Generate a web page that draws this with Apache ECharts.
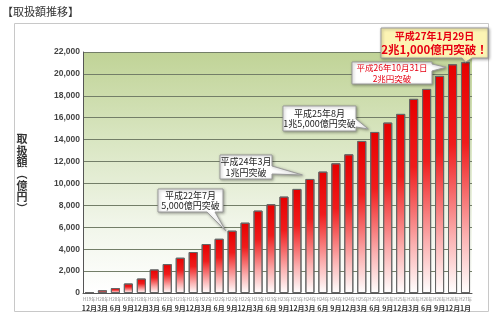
<!DOCTYPE html>
<html><head><meta charset="utf-8">
<script src="https://cdn.jsdelivr.net/npm/echarts@6/dist/echarts.min.js"></script>
<style>html,body{margin:0;padding:0;background:#fff}#c{width:500px;height:316px}</style>
</head><body><div id="c"></div>
<script>
const chartTitle = '【取扱額推移】';
const yAxisTitle = ['取','扱','額','︵','億','円','︶'];
const eraLabels = ['H19年','H20年','H20年','H20年','H20年','H21年','H21年','H21年','H21年','H22年','H22年','H22年','H22年','H23年','H23年','H23年','H23年','H24年','H24年','H24年','H24年','H25年','H25年','H25年','H25年','H26年','H26年','H26年','H26年','H27年'];
const monthLabels = ['12月','3月','6月','9月','12月','3月','6月','9月','12月','3月','6月','9月','12月','3月','6月','9月','12月','3月','6月','9月','12月','3月','6月','9月','12月','3月','6月','9月','12月','1月'];
const amounts = [80,250,450,870,1320,2150,2640,3220,3740,4470,4950,5690,6420,7520,8100,8800,9500,10410,11080,11840,12660,13880,14700,15560,16350,17720,18630,19820,20880,21070];
const yMin = 0, yMax = 22000, yStep = 2000;

const callouts = [
  {lines:['平成22年7月','5,000億円突破'], bar:11, corner:'left', dx:-2, dy:0, box:[158,189,65,23], side:'bottom', base:[207,215], style:'plain'},
  {lines:['平成24年3月','1兆円突破'], bar:17, corner:'left', dx:-3, dy:-4, box:[220,155,52,24], side:'right', base:[166,174], style:'plain'},
  {lines:['平成25年8月','1兆5,000億円突破'], bar:22, corner:'left', dx:-2, dy:-3, box:[283,106,73,25], side:'right', base:[119,127], style:'plain'},
  {lines:['平成26年10月31日','2兆円突破'], bar:28, corner:'left', dx:-2, dy:3, box:[352,62,80,22], side:'right', base:[64,71], style:'red'},
  {lines:['平成27年1月29日','2兆1,000億円突破！'], bar:29, corner:'center', dx:0, dy:0, box:[381,28,107,30], side:'bottom', base:[462,472], style:'big'}
];

const FONT = '"Noto Sans CJK JP", "Noto Sans", sans-serif';
const chart = echarts.init(document.getElementById('c'), null, {renderer:'canvas'});
chart.setOption({
  animation:false,
  backgroundColor:'#fff',
  textStyle:{fontFamily:FONT},
  grid:{left:83,right:28,top:52,bottom:23,show:true,borderWidth:0,
    backgroundColor:{type:'linear',x:0,y:0,x2:0,y2:1,colorStops:[
      {offset:0,color:'#c0d396'},{offset:0.35,color:'#d8e5c0'},{offset:0.7,color:'#f0f5e8'},{offset:1,color:'#ffffff'}]}},
  xAxis:{type:'category',data:monthLabels.map((m,i)=>i),
    axisLine:{lineStyle:{color:'#555',width:1}},axisTick:{show:false},
    axisLabel:{interval:0,margin:3,hideOverlap:false,
      formatter:(v,i)=>'{e|'+eraLabels[i]+'}\n{m|'+monthLabels[i]+'}',
      rich:{e:{fontSize:4.5,color:'#888',lineHeight:7,fontFamily:FONT},
            m:{fontSize:7,color:'#333',fontWeight:'bold',lineHeight:10,fontFamily:FONT}}}},
  yAxis:{type:'value',min:yMin,max:yMax,interval:yStep,
    axisLine:{show:true,lineStyle:{color:'#555'}},axisTick:{show:false},
    splitLine:{lineStyle:{color:'#737e68',width:1}},
    axisLabel:{margin:3,fontSize:8.5,color:'#444',fontWeight:'bold',fontFamily:'"Liberation Sans", Arial, sans-serif',
      formatter:v=>v.toLocaleString('en-US')}},
  series:[{type:'bar',data:amounts,barWidth:'70%',
    itemStyle:{borderColor:'#666',borderWidth:1,
      color:{type:'linear',x:0,y:0,x2:0,y2:1,colorStops:[
        {offset:0,color:'#e60000'},{offset:0.35,color:'#f01c1c'},{offset:0.75,color:'#fbb0b0'},{offset:1,color:'#ffffff'}]}}}]
});

function buildGraphics(){
  const els = [];
  els.push({type:'rect',shape:{x:14.5,y:23.5,width:474,height:288},style:{fill:'none',stroke:'#c8c8c8',lineWidth:1},z:0,silent:true});
  els.push({type:'text',style:{text:chartTitle,x:2,y:12,verticalAlign:'middle',fill:'#333',font:'11px '+FONT},z:10});
  yAxisTitle.forEach((ch,i)=>{
    els.push({type:'text',style:{text:ch,x:22,y:139+i*11.6,align:'center',verticalAlign:'middle',fill:'#333',font:'bold 11px '+FONT},z:10});
  });
  callouts.forEach(c=>{
    const p = chart.convertToPixel({xAxisIndex:0,yAxisIndex:0},[c.bar,amounts[c.bar]]);
    const p2 = chart.convertToPixel({xAxisIndex:0,yAxisIndex:0},[c.bar-1,amounts[c.bar]]);
    const hw = Math.abs(p2[0]-p[0])*0.35;
    const off = c.corner==='left' ? -hw : (c.corner==='right' ? hw : 0);
    const tip = [p[0]+off+c.dx, p[1]+c.dy];
    const [x,y,w,h] = c.box;
    let pts;
    if(c.side==='bottom'){
      pts=[[x,y],[x+w,y],[x+w,y+h],[c.base[1],y+h],tip,[c.base[0],y+h],[x,y+h]];
    } else {
      pts=[[x,y],[x+w,y],[x+w,c.base[0]],tip,[x+w,c.base[1]],[x+w,y+h],[x,y+h]];
    }
    const fill = c.style==='big' ? '#fcf4b4' : '#ffffff';
    els.push({type:'polygon',shape:{points:pts},style:{fill:fill,stroke:'#9a9a9a',lineWidth:1,shadowBlur:3,shadowColor:'rgba(0,0,0,0.35)',shadowOffsetX:1,shadowOffsetY:1},z:20});
    const cx = x+w/2;
    if(c.style==='big'){
      els.push({type:'text',style:{text:c.lines[0],x:cx,y:y+8.5,align:'center',verticalAlign:'middle',fill:'#e60012',font:'bold 10px '+FONT},z:21});
      els.push({type:'text',style:{text:c.lines[1],x:cx,y:y+21.5,align:'center',verticalAlign:'middle',fill:'#e60012',font:'bold 11.5px '+FONT},z:21});
    } else {
      const col = c.style==='red' ? '#e60012' : '#222';
      const fs = c.style==='red' ? 8.5 : 9;
      els.push({type:'text',style:{text:c.lines[0],x:cx,y:y+h/2-5,align:'center',verticalAlign:'middle',fill:col,font:fs+'px '+FONT},z:21});
      els.push({type:'text',style:{text:c.lines[1],x:cx,y:y+h/2+5.5,align:'center',verticalAlign:'middle',fill:col,font:fs+'px '+FONT},z:21});
    }
  });
  return els;
}
chart.setOption({graphic:buildGraphics()});
</script>
</body></html>
